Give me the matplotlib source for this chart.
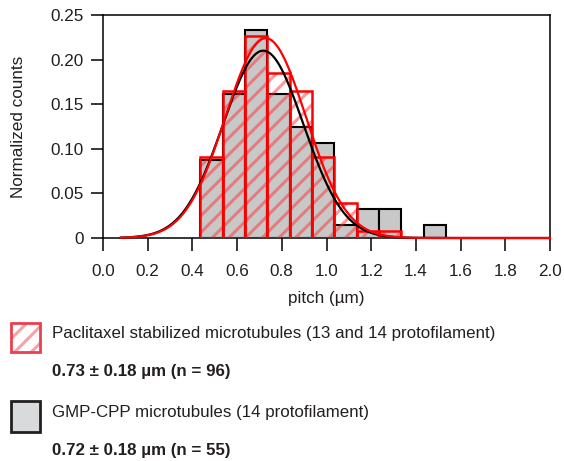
import numpy as np
import matplotlib
matplotlib.use('Agg')
import matplotlib.pyplot as plt
from matplotlib.patches import Rectangle

# histogram bins (left edges, width 0.1 um)
bin_left = [0.435, 0.535, 0.635, 0.735, 0.835, 0.935, 1.035, 1.135, 1.235, 1.335, 1.435]
gmpcpp_counts = [0.0875, 0.161, 0.233, 0.161, 0.124, 0.106, 0.0146, 0.0325, 0.0325, 0.0, 0.0146]
taxol_counts = [0.0912, 0.165, 0.227, 0.185, 0.165, 0.0912, 0.039, 0.0082, 0.0082, 0.0, 0.0]

# gaussian fits: amplitude, mean, sigma
gmpcpp_fit = [0.21, 0.717, 0.18]
taxol_fit = [0.224, 0.728, 0.18]

x_ticks = [0.0, 0.2, 0.4, 0.6, 0.8, 1.0, 1.2, 1.4, 1.6, 1.8, 2.0]
y_ticks = [0, 0.05, 0.10, 0.15, 0.20, 0.25]
y_tick_labels = ['0', '0.05', '0.10', '0.15', '0.20', '0.25']

legend_lines = ['Paclitaxel stabilized microtubules (13 and 14 protofilament)',
                '0.73 \u00b1 0.18 \u00b5m (n = 96)',
                'GMP-CPP microtubules (14 protofilament)',
                '0.72 \u00b1 0.18 \u00b5m (n = 55)']


def gauss(x, a, mu, s):
    return a * np.exp(-(x - mu) ** 2 / (2 * s ** 2))


def main():
    plt.rcParams['font.family'] = ['Liberation Sans', 'DejaVu Sans']
    plt.rcParams['hatch.linewidth'] = 2.2
    dark = '#231f20'
    fs = 12.3
    lfs = 12.15

    fig = plt.figure(figsize=(5.64, 4.61), dpi=100)
    ax = fig.add_axes([103 / 564, 1 - 238 / 461, 447 / 564, 223 / 461])

    ax.bar(bin_left, gmpcpp_counts, width=0.1, align='edge', facecolor='#c8c8c8',
           edgecolor='black', linewidth=1.5, zorder=2)
    ax.bar(bin_left, taxol_counts, width=0.1, align='edge', facecolor='none',
           edgecolor=(1, 0.2, 0.2, 0.5), hatch='//', linewidth=0, zorder=3)
    ax.bar(bin_left, taxol_counts, width=0.1, align='edge', facecolor='none',
           edgecolor='red', linewidth=1.8, zorder=4)

    xs = np.linspace(0.08, 2.0, 400)
    ax.plot(xs, gauss(xs, *gmpcpp_fit), color='black', lw=1.6, zorder=5, clip_on=False)
    ax.plot(xs, gauss(xs, *taxol_fit), color='red', lw=1.6, zorder=6, clip_on=False)

    ax.set_xlim(0, 2.0)
    ax.set_ylim(0, 0.25)
    ax.set_xticks(x_ticks)
    ax.set_xticklabels(['%.1f' % t for t in x_ticks])
    ax.set_yticks(y_ticks)
    ax.set_yticklabels(y_tick_labels)
    for sp in ax.spines.values():
        sp.set_linewidth(1.1)
        sp.set_color('black')
    ax.tick_params(direction='out', length=9, width=1.1, labelsize=fs, labelcolor=dark)
    ax.tick_params(axis='x', pad=9.5)
    ax.tick_params(axis='y', pad=5)
    ax.set_xlabel('pitch (\u00b5m)', fontsize=fs, color=dark, labelpad=8.5)
    ax.set_ylabel('Normalized counts', fontsize=fs, color=dark, labelpad=17.5)

    # legend drawn below the axes
    fig.add_artist(Rectangle((11 / 564, 1 - 352 / 461), 29 / 564, 29 / 461,
                             transform=fig.transFigure, facecolor='white',
                             edgecolor='#f5a3a8', hatch='//', linewidth=0))
    fig.add_artist(Rectangle((11 / 564, 1 - 352 / 461), 29 / 564, 29 / 461,
                             transform=fig.transFigure, facecolor='none',
                             edgecolor='#e8414e', linewidth=2))
    fig.add_artist(Rectangle((11 / 564, 1 - 432 / 461), 29 / 564, 31 / 461,
                             transform=fig.transFigure, facecolor='#d9dadb',
                             edgecolor=dark, linewidth=2))

    fig.text(52 / 564, 1 - 333 / 461, legend_lines[0], fontsize=lfs, color=dark, va='center')
    fig.text(52 / 564, 1 - 371 / 461, legend_lines[1], fontsize=lfs, color=dark,
             va='center', fontweight='bold')
    fig.text(52 / 564, 1 - 412 / 461, legend_lines[2], fontsize=lfs, color=dark, va='center')
    fig.text(52 / 564, 1 - 450 / 461, legend_lines[3], fontsize=lfs, color=dark,
             va='center', fontweight='bold')

    fig.savefig('out.png', dpi=100)


if __name__ == "__main__":
    main()
